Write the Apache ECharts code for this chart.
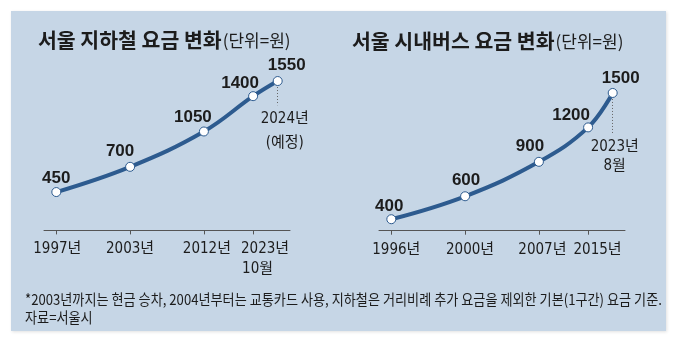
<!DOCTYPE html>
<html><head><meta charset="utf-8">
<script src="https://cdn.jsdelivr.net/npm/echarts@6/dist/echarts.min.js"></script>
<style>html,body{margin:0;padding:0;background:#fff}#c{width:677px;height:362px}</style>
</head><body><div id="c"></div>
<script>
// ---------- data ----------
const subwayTitle = '서울 지하철 요금 변화';
const busTitle = '서울 시내버스 요금 변화';
const unitText = '(단위=원)';
const subwayYears = ['1997년', '2003년', '2012년', '2023년\n10월', '2024년\n(예정)'];
const subwayFares = [450, 700, 1050, 1400, 1550];
const busYears = ['1996년', '2000년', '2007년', '2015년', '2023년\n8월'];
const busFares = [400, 600, 900, 1200, 1500];
const footnoteLine1 = '*2003년까지는 현금 승차, 2004년부터는 교통카드 사용, 지하철은 거리비례 추가 요금을 제외한 기본(1구간) 요금 기준.';
const footnoteLine2 = '자료=서울시';

// ---------- layout / style ----------
const slotIndex = [0, 3, 6, 8, 9];
const slotCount = 10;
const LINE = '#2d5b8f';
const TEXT = '#1c1c1c';
const NUM_FONT = '"DejaVu Sans Condensed", "Noto Sans CJK KR", sans-serif';
const BOLD_NUM_FONT = '"Liberation Sans", Arial, sans-serif';
const KR_FONT = '"Noto Sans CJK KR", sans-serif';
const TITLE_FONT = 'bold 20.5px ' + KR_FONT;
const UNIT_FONT = '17px ' + KR_FONT;
const subwayLabelOffset = [[0, 1], [-10, -1], [-11, 0], [-13, 2], [9, -1]];
const busLabelOffset = [[-2, 2], [1, -1], [-9, -1], [-17, 2], [8, 0]];
const subwayTickShift = [1, 0, 3, [12, 4.5]];
const busTickShift = [5, 5, 3.5, 9.5];

function measure(txt, font) {
  const ctx = document.createElement('canvas').getContext('2d');
  ctx.font = font;
  return ctx.measureText(txt).width;
}
function buildCats(years) {
  const c = new Array(slotCount).fill('');
  slotIndex.forEach((s, i) => { if (i < years.length - 1) c[s] = years[i]; });
  return c;
}
function buildRich(cats, shifts) {
  const rich = {};
  let k = 0;
  cats.forEach((v, idx) => {
    if (!v) return;
    const sh = shifts[k++];
    v.split('\n').forEach((line, j) => {
      const s = Array.isArray(sh) ? sh[j] : sh;
      rich['s' + idx + '_' + j] = { padding: [0, 0, 0, 2 * s], fontSize: 15, lineHeight: 20, fontFamily: NUM_FONT, color: TEXT };
    });
  });
  return rich;
}
function xAxisFor(gridIndex, years, shifts) {
  const cats = buildCats(years);
  return {
    type: 'category', gridIndex, data: cats, boundaryGap: true,
    axisLine: { show: true, lineStyle: { color: '#555', width: 1 } },
    axisTick: { show: true, alignWithLabel: true, length: 4, interval: (i) => cats[i] !== '', lineStyle: { color: '#555' } },
    axisLabel: {
      interval: 0, margin: 9,
      formatter: (v, idx) => v ? v.split('\n').map((l, j) => '{s' + idx + '_' + j + '|' + l + '}').join('\n') : '',
      rich: buildRich(cats, shifts)
    },
    splitLine: { show: false }
  };
}
function seriesFor(idx, fares, offsets, lastLabel, dropValue, lblDist, lblShift, lblLineH) {
  const last = fares.length - 1;
  return {
    type: 'line', xAxisIndex: idx, yAxisIndex: idx,
    data: fares.map((v, i) => ({ value: [slotIndex[i], v], label: { offset: offsets[i] } })),
    smooth: 0.4, symbol: 'circle', symbolSize: 9, z: 3,
    lineStyle: { width: 4, color: LINE },
    itemStyle: { color: '#fff', borderColor: LINE, borderWidth: 1 },
    label: { show: true, position: 'top', distance: 1, fontFamily: BOLD_NUM_FONT, fontWeight: 'bold', fontSize: 17, color: TEXT },
    markLine: {
      silent: true, symbol: 'none', z: 1, animation: false,
      lineStyle: { type: [1, 2], color: '#666', width: 1 },
      label: { show: true, position: 'end', distance: lblDist, formatter: lastLabel, fontFamily: NUM_FONT, fontSize: 15, lineHeight: lblLineH, color: TEXT, padding: [0, 0, 0, 2 * lblShift] },
      data: [[{ coord: [slotIndex[last], fares[last]] }, { coord: [slotIndex[last], fares[last] - dropValue] }]]
    }
  };
}
function textEl(x, y, txt, font, scaleX) {
  return { type: 'text', x, y, z: 5, scaleX,
    style: { text: txt, font, fill: TEXT, textVerticalAlign: 'middle', verticalAlign: 'middle' } };
}

const leftTitleX = 38, rightTitleX = 352;
const chart = echarts.init(document.getElementById('c'), null, { renderer: 'canvas' });
chart.setOption({
  animation: false,
  backgroundColor: '#ffffff',
  grid: [
    { left: 44, top: 55.8, width: 246, height: 174.6 },
    { left: 379, top: 70, width: 246, height: 160.7 }
  ],
  xAxis: [xAxisFor(0, subwayYears, subwayTickShift), xAxisFor(1, busYears, busTickShift)],
  yAxis: [
    { type: 'value', gridIndex: 0, min: 70, max: 1800, show: false },
    { type: 'value', gridIndex: 1, min: 300, max: 1700, show: false }
  ],
  series: [
    seriesFor(0, subwayFares, subwayLabelOffset, subwayYears[4], 240, 1.5, 7, 24),
    seriesFor(1, busFares, busLabelOffset, busYears[4], 350, 4, 2, 19)
  ],
  graphic: [
    { type: 'rect', z: -10, shape: { x: 11, y: 11, width: 655, height: 320 },
      style: { fill: '#c6d6e6', shadowBlur: 3, shadowOffsetX: 1, shadowOffsetY: 1, shadowColor: 'rgba(0,0,0,0.12)' } },
    textEl(leftTitleX, 40, subwayTitle, TITLE_FONT, 1),
    textEl(leftTitleX + measure(subwayTitle, TITLE_FONT) + 1, 41, unitText, UNIT_FONT, 1),
    textEl(rightTitleX, 41.5, busTitle, TITLE_FONT, 1),
    textEl(rightTitleX + measure(busTitle, TITLE_FONT) + 1, 42, unitText, UNIT_FONT, 1),
    textEl(25, 299, footnoteLine1, '15px ' + KR_FONT, 0.875),
    textEl(25, 317, footnoteLine2, '15px ' + KR_FONT, 0.875)
  ]
});
</script></body></html>
